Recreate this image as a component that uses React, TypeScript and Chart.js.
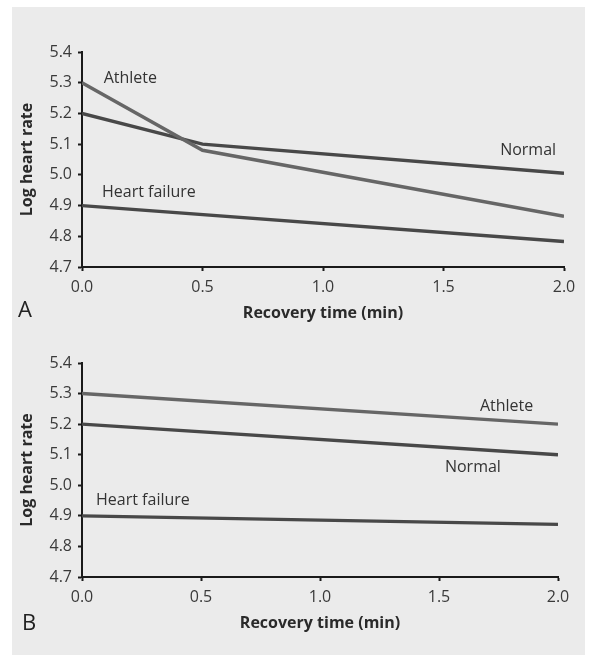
import React, { useEffect, useRef } from "react";
import Chart from "chart.js/auto";

// ---- Data ----
const TIME_A = [0, 0.5, 2.0];
const ATHLETE_A = [5.3, 5.08, 4.865];
const NORMAL_A = [5.2, 5.1, 5.005];
const HF_TIME_A = [0, 2.0];
const HF_A = [4.9, 4.783];

const TIME_B = [0, 2.0];
const ATHLETE_B = [5.3, 5.2];
const NORMAL_B = [5.2, 5.1];
const HF_B = [4.9, 4.872];

const X_TICKS = [0, 0.5, 1.0, 1.5, 2.0];
const Y_TICKS = [4.7, 4.8, 4.9, 5.0, 5.1, 5.2, 5.3, 5.4];

const LABELS_A = [
  { text: "Athlete", x: 0.09, y: 5.315 },
  { text: "Normal", x: 1.735, y: 5.08 },
  { text: "Heart failure", x: 0.083, y: 4.944 },
];
const LABELS_B = [
  { text: "Athlete", x: 1.672, y: 5.259 },
  { text: "Normal", x: 1.525, y: 5.06 },
  { text: "Heart failure", x: 0.059, y: 4.952 },
];

const pts = (xs: number[], ys: number[]) => xs.map((x, i) => ({ x, y: ys[i] }));

const FONT = "'Open Sans', 'DejaVu Sans', sans-serif";
const LINE_DARK = "#484848";
const LINE_LIGHT = "#666666";
const AXIS = "#1a1a1a";

type PanelProps = {
  datasets: any[];
  labels: { text: string; x: number; y: number }[];
  letter: string;
  letterX: number;
  letterY: number;
  top: number;
  height: number;
  padTop: number;
  padRight: number;
  xAxisHeight: number;
  titleBottomPad: number;
};

function Panel(p: PanelProps) {
  const ref = useRef<HTMLCanvasElement | null>(null);
  useEffect(() => {
    if (!ref.current) return;
    const labelPlugin = {
      id: "annot",
      afterDatasetsDraw(chart: any) {
        const { ctx, scales } = chart;
        ctx.save();
        ctx.fillStyle = "#333";
        ctx.font = `16px ${FONT}`;
        ctx.textBaseline = "middle";
        ctx.textAlign = "left";
        p.labels.forEach((l) => {
          ctx.fillText(l.text, scales.x.getPixelForValue(l.x), scales.y.getPixelForValue(l.y));
        });
        ctx.font = `22px ${FONT}`;
        ctx.fillStyle = "#222";
        ctx.textBaseline = "alphabetic";
        ctx.fillText(p.letter, p.letterX, p.letterY);
        ctx.restore();
      },
    };
    const zeroPad = (s: any) => {
      s.paddingLeft = 0;
      s.paddingRight = 0;
      s.paddingTop = 0;
      s.paddingBottom = 0;
    };
    const chart = new Chart(ref.current, {
      type: "line",
      data: { datasets: p.datasets },
      plugins: [labelPlugin],
      options: {
        animation: false,
        responsive: false,
        maintainAspectRatio: false,
        layout: { padding: { top: p.padTop, right: p.padRight, left: 0, bottom: 0 } },
        plugins: { legend: { display: false }, tooltip: { enabled: false } },
        elements: { point: { radius: 0 }, line: { tension: 0 } },
        scales: {
          x: {
            type: "linear",
            min: 0,
            max: 2,
            afterBuildTicks: (s: any) => {
              s.ticks = X_TICKS.map((v) => ({ value: v }));
            },
            afterFit: (s: any) => {
              s.height = p.xAxisHeight;
              zeroPad(s);
            },
            border: { display: true, color: AXIS, width: 2 },
            grid: { drawOnChartArea: false, drawTicks: true, tickLength: 4, tickColor: AXIS, tickWidth: 2 },
            ticks: {
              color: "#3a3a3a",
              font: { family: FONT, size: 16 },
              padding: 7,
              maxRotation: 0,
              callback: (v: any) => Number(v).toFixed(1),
            },
            title: {
              display: true,
              text: "Recovery time (min)",
              color: "#2a2a2a",
              font: { family: FONT, size: 16, weight: "bold" },
              padding: { top: 0, bottom: p.titleBottomPad },
            },
          },
          y: {
            type: "linear",
            min: 4.7,
            max: 5.4,
            afterBuildTicks: (s: any) => {
              s.ticks = Y_TICKS.map((v) => ({ value: v }));
            },
            afterFit: (s: any) => {
              s.width = 70;
              zeroPad(s);
            },
            border: { display: true, color: AXIS, width: 2 },
            grid: { drawOnChartArea: false, drawTicks: true, tickLength: 4, tickColor: AXIS, tickWidth: 2 },
            ticks: {
              color: "#3a3a3a",
              font: { family: FONT, size: 16 },
              padding: 6,
              callback: (v: any) => Number(v).toFixed(1),
            },
            title: {
              display: true,
              text: "Log heart rate",
              color: "#2a2a2a",
              font: { family: FONT, size: 16, weight: "bold" },
              padding: { top: 6, bottom: 0 },
            },
          },
        },
      } as any,
    });
    return () => chart.destroy();
  }, []);
  return (
    <canvas
      ref={ref}
      width={573}
      height={p.height}
      style={{ position: "absolute", left: 12, top: p.top, width: 573, height: p.height }}
    />
  );
}

const ds = (label: string, data: any[], color: string) => ({
  label,
  data,
  borderColor: color,
  borderWidth: 3.4,
  pointRadius: 0,
  fill: false,
});

export default function App() {
  const datasetsA = [
    ds("Athlete", pts(TIME_A, ATHLETE_A), LINE_LIGHT),
    ds("Normal", pts(TIME_A, NORMAL_A), LINE_DARK),
    ds("Heart failure", pts(HF_TIME_A, HF_A), LINE_DARK),
  ];
  const datasetsB = [
    ds("Athlete", pts(TIME_B, ATHLETE_B), LINE_LIGHT),
    ds("Normal", pts(TIME_B, NORMAL_B), LINE_DARK),
    ds("Heart failure", pts(TIME_B, HF_B), LINE_DARK),
  ];
  return (
    <div style={{ position: "absolute", left: 0, top: 0, width: 600, height: 666, background: "#ffffff" }}>
      <div style={{ position: "absolute", left: 12, top: 7, width: 573, height: 648, background: "#ebebeb" }} />
      <Panel
        datasets={datasetsA}
        labels={LABELS_A}
        letter="A"
        letterX={6}
        letterY={310}
        top={7}
        height={324}
        padTop={45}
        padRight={21}
        xAxisHeight={64}
        titleBottomPad={8}
      />
      <Panel
        datasets={datasetsB}
        labels={LABELS_B}
        letter="B"
        letterX={10}
        letterY={299}
        top={331}
        height={324}
        padTop={32}
        padRight={27}
        xAxisHeight={78}
        titleBottomPad={22}
      />
    </div>
  );
}
